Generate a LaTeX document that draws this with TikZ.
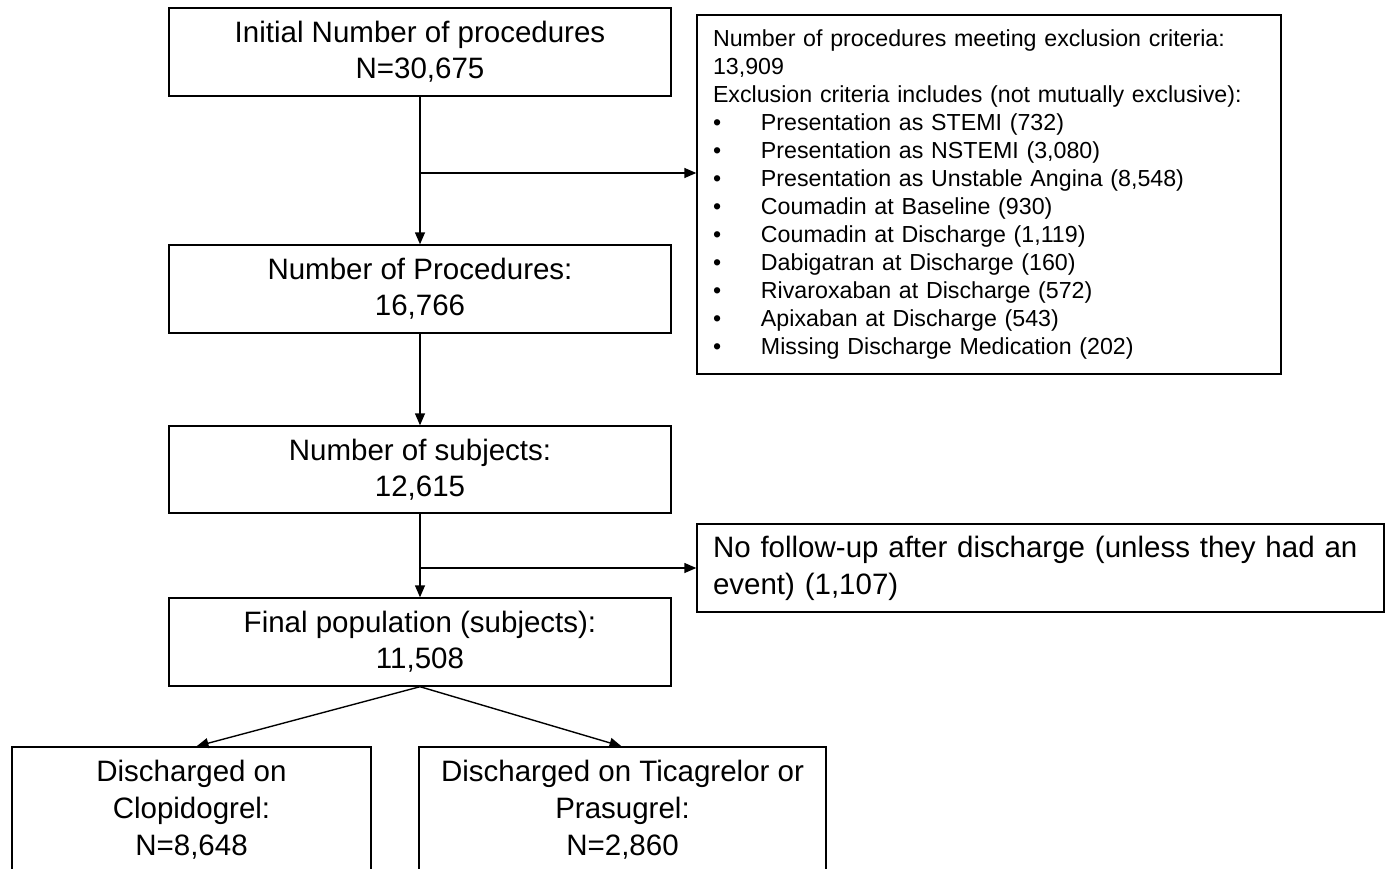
\documentclass[tikz,border=0pt]{standalone}
\usepackage{fontspec}
\setmainfont{Liberation Sans}
\usetikzlibrary{arrows.meta}
\begin{document}
\begin{tikzpicture}[x=1pt,y=-1pt,
  box/.style={draw=black,line width=1.4pt,fill=none,inner sep=0pt,align=center,
    font=\fontsize{29.5}{36}\selectfont},
  arr/.style={line width=1.4pt,-{Triangle[length=12pt,width=10pt]}}]
\useasboundingbox (0,0) rectangle (1386,869);
\node[box,minimum width=502pt,minimum height=88pt] (b1) at (420,52) {Initial Number of procedures\\N=30,675};
\node[box,minimum width=502pt,minimum height=88pt] (b2) at (420,289) {Number of Procedures:\\16,766};
\node[box,minimum width=502pt,minimum height=87pt] (b3) at (420,469.5) {Number of subjects:\\12,615};
\node[box,minimum width=502pt,minimum height=88pt] (b4) at (420,642) {Final population (subjects):\\11,508};
\node[box,minimum width=584pt,minimum height=359pt,text width=552pt,inner xsep=16pt,align=left,
  font=\fontsize{23.2}{28}\selectfont] (b5) at (989,194.5) {Number of procedures meeting exclusion criteria:\\
13,909\\
Exclusion criteria includes (not mutually exclusive):\\
\makebox[48pt][l]{\textbullet}Presentation as STEMI (732)\\
\makebox[48pt][l]{\textbullet}Presentation as NSTEMI (3,080)\\
\makebox[48pt][l]{\textbullet}Presentation as Unstable Angina (8,548)\\
\makebox[48pt][l]{\textbullet}Coumadin at Baseline (930)\\
\makebox[48pt][l]{\textbullet}Coumadin at Discharge (1,119)\\
\makebox[48pt][l]{\textbullet}Dabigatran at Discharge (160)\\
\makebox[48pt][l]{\textbullet}Rivaroxaban at Discharge (572)\\
\makebox[48pt][l]{\textbullet}Apixaban at Discharge (543)\\
\makebox[48pt][l]{\textbullet}Missing Discharge Medication (202)};
\node[box,minimum width=687pt,minimum height=88pt,text width=655pt,inner xsep=16pt,align=left,
  font=\fontsize{29.5}{37}\selectfont] (b6) at (1040.5,568) {No follow-up after discharge (unless they had an\\event) (1,107)};
\node[box,minimum width=359pt,minimum height=125pt,font=\fontsize{29.5}{37}\selectfont] (b7) at (191.5,809.5) {Discharged on\\Clopidogrel:\\N=8,648};
\node[box,minimum width=407pt,minimum height=125pt,font=\fontsize{29.5}{37}\selectfont] (b8) at (622.5,809.5) {Discharged on Ticagrelor or\\Prasugrel:\\N=2,860};
\coordinate (j1) at (420,173);
\coordinate (j2) at (420,568);
\draw[arr] (b1.south) -- (b2.north);
\draw[arr] (j1) -- (j1 -| b5.west);
\draw[arr] (b2.south) -- (b3.north);
\draw[arr] (b3.south) -- (b4.north);
\draw[arr] (j2) -- (j2 -| b6.west);
\draw[arr] (b4.south) -- ([xshift=5pt]b7.north);
\draw[arr] (b4.south) -- ([xshift=-1pt]b8.north);
\end{tikzpicture}
\end{document}
